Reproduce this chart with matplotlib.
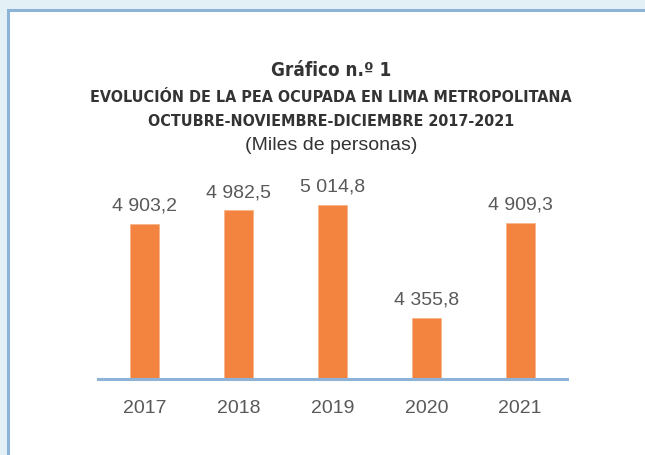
import matplotlib.pyplot as plt
from matplotlib.patches import Rectangle

# data
years = ["2017", "2018", "2019", "2020", "2021"]
pea = [4903.2, 4982.5, 5014.8, 4355.8, 4909.3]
value_labels = ["4 903,2", "4 982,5", "5 014,8", "4 355,8", "4 909,3"]

W, H = 645, 455
fig = plt.figure(figsize=(W / 100, H / 100), dpi=100)
fig.patch.set_facecolor("#E3F1F6")

# white panel with blue border (cropped at right and bottom)
fig.patches.append(Rectangle((8 / W, -0.1), 1.2, (H - 10) / H + 0.1,
                             transform=fig.transFigure, facecolor="white",
                             edgecolor="#8DB3D9", linewidth=2.2, zorder=-5))

# axes placed in pixel terms: x 98..567, bottom at y=379, top at y=156
ax = fig.add_axes([98 / W, (H - 379) / H, (567 - 98) / W, (379 - 156) / H])
ax.set_facecolor("none")
ax.set_zorder(2)

x = range(len(years))
ax.bar(x, pea, width=0.31, color="#F2843F", edgecolor="#F7B48A",
       linewidth=0.6, zorder=2)
ax.set_xlim(-0.5, 4.5)
ax.set_ylim(4000, 5300)

for xi, v, lab in zip(x, pea, value_labels):
    ax.annotate(lab, (xi, v), xytext=(0, 9.5), textcoords="offset points",
                ha="center", va="baseline", fontsize=14, color="#595959",
                family="Liberation Sans")

for s in ["top", "right", "left"]:
    ax.spines[s].set_visible(False)
ax.spines["bottom"].set_color("#8DB3D9")
ax.spines["bottom"].set_linewidth(2.2)
ax.set_yticks([])
ax.set_xticks(list(x))
ax.set_xticklabels(years, fontsize=14, color="#595959", family="Liberation Sans")
ax.tick_params(axis="x", length=0, pad=15)

cx = 331 / W
fig.text(cx, 1 - 70 / H, "Gráfico n.º 1", ha="center", va="center",
         fontsize=13.5, fontweight="bold", color="#333333", fontstretch="condensed")
fig.text(cx, 1 - 97 / H, "EVOLUCIÓN DE LA PEA OCUPADA EN LIMA METROPOLITANA",
         ha="center", va="center", fontsize=11.5, fontweight="bold",
         color="#333333", fontstretch="condensed")
fig.text(cx, 1 - 122 / H, "OCTUBRE-NOVIEMBRE-DICIEMBRE 2017-2021",
         ha="center", va="center", fontsize=11.5, fontweight="bold",
         color="#333333", fontstretch="condensed")
fig.text(cx, 1 - 145 / H, "(Miles de personas)", ha="center", va="center",
         fontsize=14, color="#333333", family="Liberation Sans")

fig.savefig("out.png", dpi=100, facecolor=fig.get_facecolor())
